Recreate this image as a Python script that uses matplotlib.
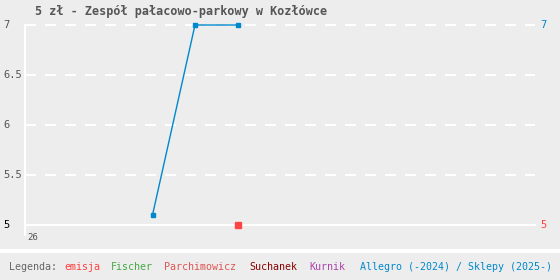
import matplotlib
matplotlib.use('Agg')
import matplotlib.pyplot as plt
import matplotlib.transforms as mtransforms

title = '5 zł - Zespół pałacowo-parkowy w Kozłówce'

# Allegro / Sklepy series
allegro_x = [3, 4, 5]
allegro_y = [5.1, 7, 7]
# emisja
emisja_x = [5]
emisja_y = [5.0]

y_ticks = [5, 5.5, 6, 6.5, 7]
y_labels = ['5', '5.5', '6', '6.5', '7']
x_label = '26'

legend_items = ['Legenda:', 'emisja', 'Fischer', 'Parchimowicz', 'Suchanek', 'Kurnik',
                'Allegro (-2024) / Sklepy (2025-)']
legend_colors = ['#666666', '#ff4040', '#44aa44', '#dd5555', '#880000', '#aa44aa', '#0088cc']
legend_px = [9, 64, 111, 164, 249, 309, 360]

bg = '#ededed'
mono = 'DejaVu Sans Mono'
W, H = 560, 280

fig = plt.figure(figsize=(5.6, 2.8), dpi=100, facecolor=bg)
ax = fig.add_axes([25 / W, 1 - 225 / H, 510 / W, 200 / H])
ax.set_facecolor(bg)
ax.set_xlim(0, 12)
ax.set_ylim(5, 7)
for s in ax.spines.values():
    s.set_visible(False)
ax.set_xticks([])
ax.set_yticks([])

# grid
for v in y_ticks[1:]:
    ax.axhline(v, color='white', lw=1.5, dashes=(5.3, 4.3), clip_on=False, zorder=1)
ax.axhline(5, color='white', lw=1.5, clip_on=False, zorder=1)
ax.axvline(0, ymin=-0.05, ymax=1, color='white', lw=1.5, clip_on=False, zorder=1)

ax.plot(allegro_x, allegro_y, color='#0088cc', lw=1, marker='s', ms=3, clip_on=False, zorder=3)
ax.plot(emisja_x, emisja_y, ls='none', color='#ff4444', marker='s', ms=5, clip_on=False, zorder=3)

# y labels on left
tr = mtransforms.blended_transform_factory(fig.transFigure, ax.transData)
for v, lab in zip(y_ticks, y_labels):
    ax.text(3 / W, v, lab, transform=tr, ha='left', va='center', family=mono,
            fontsize=7.5, color='black' if v == 5 else '#555555')

# last values on right
ax.text(540 / W, allegro_y[-1], '7', transform=tr, ha='left', va='center',
        family=mono, fontsize=7.5, color='#0088cc')
ax.text(540 / W, emisja_y[-1], '5', transform=tr, ha='left', va='center',
        family=mono, fontsize=7.5, color='#ff4040')

ax.text(0.05, 4.87, x_label, ha='left', va='center', family=mono, fontsize=6.5,
        color='#555555')

fig.text(35 / W, 1 - 12 / H, title, ha='left', va='center', family=mono,
         fontweight='bold', fontsize=8.5, color='#555555')

# separator band
fig.add_artist(plt.Rectangle((0, 1 - 253 / H), 1, 4 / H, transform=fig.transFigure,
                             color='white', lw=0))

for txt, col, px in zip(legend_items, legend_colors, legend_px):
    fig.text(px / W, 1 - 267 / H, txt, ha='left', va='center', family=mono,
             fontsize=7.2, color=col)

fig.savefig('out.png', dpi=100, facecolor=bg)
